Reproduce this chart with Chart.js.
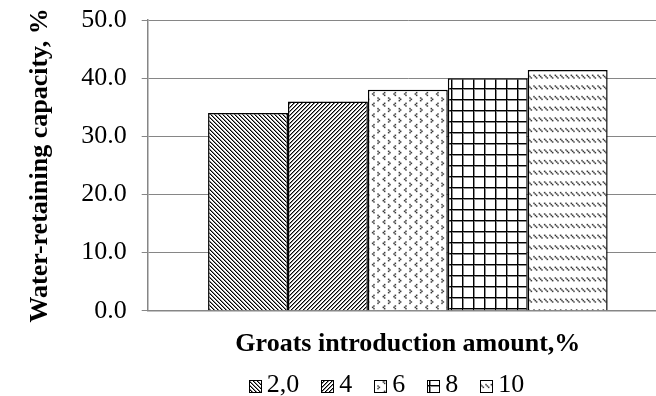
<!DOCTYPE html>
<html>
<head>
<meta charset="utf-8">
<script src="https://cdn.jsdelivr.net/npm/chart.js@4.4.1/dist/chart.umd.min.js"></script>
<style>
  html, body { margin: 0; padding: 0; background: #fff; overflow: hidden; }
  #wrap { width: 668px; height: 396px; }
</style>
</head>
<body>
<div id="wrap"><canvas id="c" width="668" height="396"></canvas></div>
<script>
// ---- data ----
const categories = [''];
const seriesLabels = ['2,0', '4', '6', '8', '10'];
const series20 = [34.0];
const series4 = [36.0];
const series6 = [38.0];
const series8 = [40.0];
const series10 = [41.4];
const yTickValues = [0, 10, 20, 30, 40, 50];
const yAxisTitle = 'Water-retaining capacity, %';
const xAxisTitle = 'Groats introduction amount,%';

const seriesValues = [series20, series4, series6, series8, series10];

// ---- hatch fills ----
// Each tile: size, optional scale, and a painter returning a colour (or null) per pixel.
const FONT = "'Liberation Serif', 'Times New Roman', serif";
const K = '#000', G = '#8a8a8a';
const rows = (lines) => (x, y) => (lines[y][x] === 'X' ? K : null);
const tiles = {
  dnDiag: { size: 4, px: (x, y) => ((x - y + 8) % 4) === 0 ? K : ((x - y + 8) % 4) === 1 ? G : null },
  upDiag: { size: 4, px: (x, y) => ((x + y) % 4) === 0 ? K : ((x + y) % 4) === 1 ? G : null },
  divot: { size: 8, scale: 4 / 3, px: rows([
    '........',
    '...X....',
    '....X...',
    '...X....',
    '........',
    'X.......',
    '.......X',
    'X.......'
  ]) },
  grid: { size: 11, px: (x, y) => (x === 0 || y === 0) ? K : (x === 1 || y === 1) ? G : null },
  dashDn: { size: 8, scale: 4 / 3, px: rows([
    'X...X...',
    '.X...X..',
    '..X...X.',
    '........',
    '........',
    '........',
    '........',
    '........'
  ]) }
};
const seriesTiles = ['dnDiag', 'upDiag', 'divot', 'grid', 'dashDn'];

const canvas = document.getElementById('c');
const ctx = canvas.getContext('2d');

function makePattern(def) {
  const n = def.size;
  const t = document.createElement('canvas');
  t.width = n; t.height = n;
  const c = t.getContext('2d');
  c.fillStyle = '#fff';
  c.fillRect(0, 0, n, n);
  for (let y = 0; y < n; y++) {
    for (let x = 0; x < n; x++) {
      const col = def.px(x, y);
      if (col) { c.fillStyle = col; c.fillRect(x, y, 1, 1); }
    }
  }
  const p = ctx.createPattern(t, 'repeat');
  if (def.scale) p.setTransform(new DOMMatrix().scale(def.scale));
  return p;
}
const fills = seriesTiles.map(k => makePattern(tiles[k]));

// ---- legend with hatch swatches, centred under the plot ----
const hatchLegend = {
  id: 'hatchLegend',
  afterDraw(chart, args, o) {
    const { ctx: g, chartArea } = chart;
    g.save();
    g.font = `${o.fontSize}px ${FONT}`;
    g.textBaseline = 'middle';
    g.textAlign = 'left';
    const items = chart.data.datasets.map(ds => ({
      text: ds.label, fill: ds.backgroundColor, w: g.measureText(ds.label).width
    }));
    const total = items.reduce((s, it) => s + o.box + o.gap + it.w, 0) + o.spacing * (items.length - 1);
    let x = o.centerX - total / 2;
    const y = chartArea.bottom + o.offsetY;
    for (const it of items) {
      const bx = Math.round(x);
      const by = Math.round(y - o.box / 2 + o.boxShift);
      g.fillStyle = it.fill;
      g.fillRect(bx, by, o.box, o.box);
      g.strokeStyle = '#000';
      g.lineWidth = 1;
      g.strokeRect(bx + 0.5, by + 0.5, o.box - 1, o.box - 1);
      g.fillStyle = '#000';
      g.fillText(it.text, x + o.box + o.gap, y);
      x += o.box + o.gap + it.w + o.spacing;
    }
    g.restore();
  }
};

new Chart(ctx, {
  type: 'bar',
  data: {
    labels: categories,
    datasets: seriesLabels.map((label, i) => ({
      label,
      data: seriesValues[i],
      backgroundColor: fills[i],
      borderColor: '#000',
      borderWidth: 1.5,
      borderSkipped: 'start',
      categoryPercentage: 0.768,
      barPercentage: 1
    }))
  },
  options: {
    responsive: false,
    animation: false,
    devicePixelRatio: 1,
    font: { family: FONT },
    layout: { padding: { left: 10, top: 20, right: 0, bottom: 36 } },
    plugins: {
      legend: { display: false },
      tooltip: { enabled: false },
      hatchLegend: { fontSize: 26, box: 13, gap: 5, spacing: 22, centerX: 386.5, offsetY: 74, boxShift: 1.5 }
    },
    scales: {
      x: {
        grid: { display: false, drawTicks: false },
        border: { display: true, color: '#868686', width: 1.5 },
        ticks: { display: false },
        title: {
          display: true, text: xAxisTitle, color: '#000',
          font: { family: FONT, size: 26, weight: 'bold' },
          padding: { top: 18, bottom: 0 }
        }
      },
      y: {
        min: yTickValues[0],
        max: yTickValues[yTickValues.length - 1],
        afterBuildTicks(scale) { scale.ticks = yTickValues.map(v => ({ value: v })); },
        // the top label may overhang the plot; the outer padding keeps it on the canvas
        afterFit(scale) { scale.paddingTop = 0; },
        ticks: {
          color: '#000', padding: 15,
          font: { family: FONT, size: 26 },
          callback: v => Number(v).toFixed(1)
        },
        grid: { color: '#868686', lineWidth: 1, tickLength: 6 },
        border: { color: '#868686', width: 1.5 },
        title: {
          display: true, text: yAxisTitle, color: '#000',
          font: { family: FONT, size: 26, weight: 'bold' },
          padding: { top: 15, bottom: 10 }
        }
      }
    }
  },
  plugins: [hatchLegend]
});
</script>
</body>
</html>
